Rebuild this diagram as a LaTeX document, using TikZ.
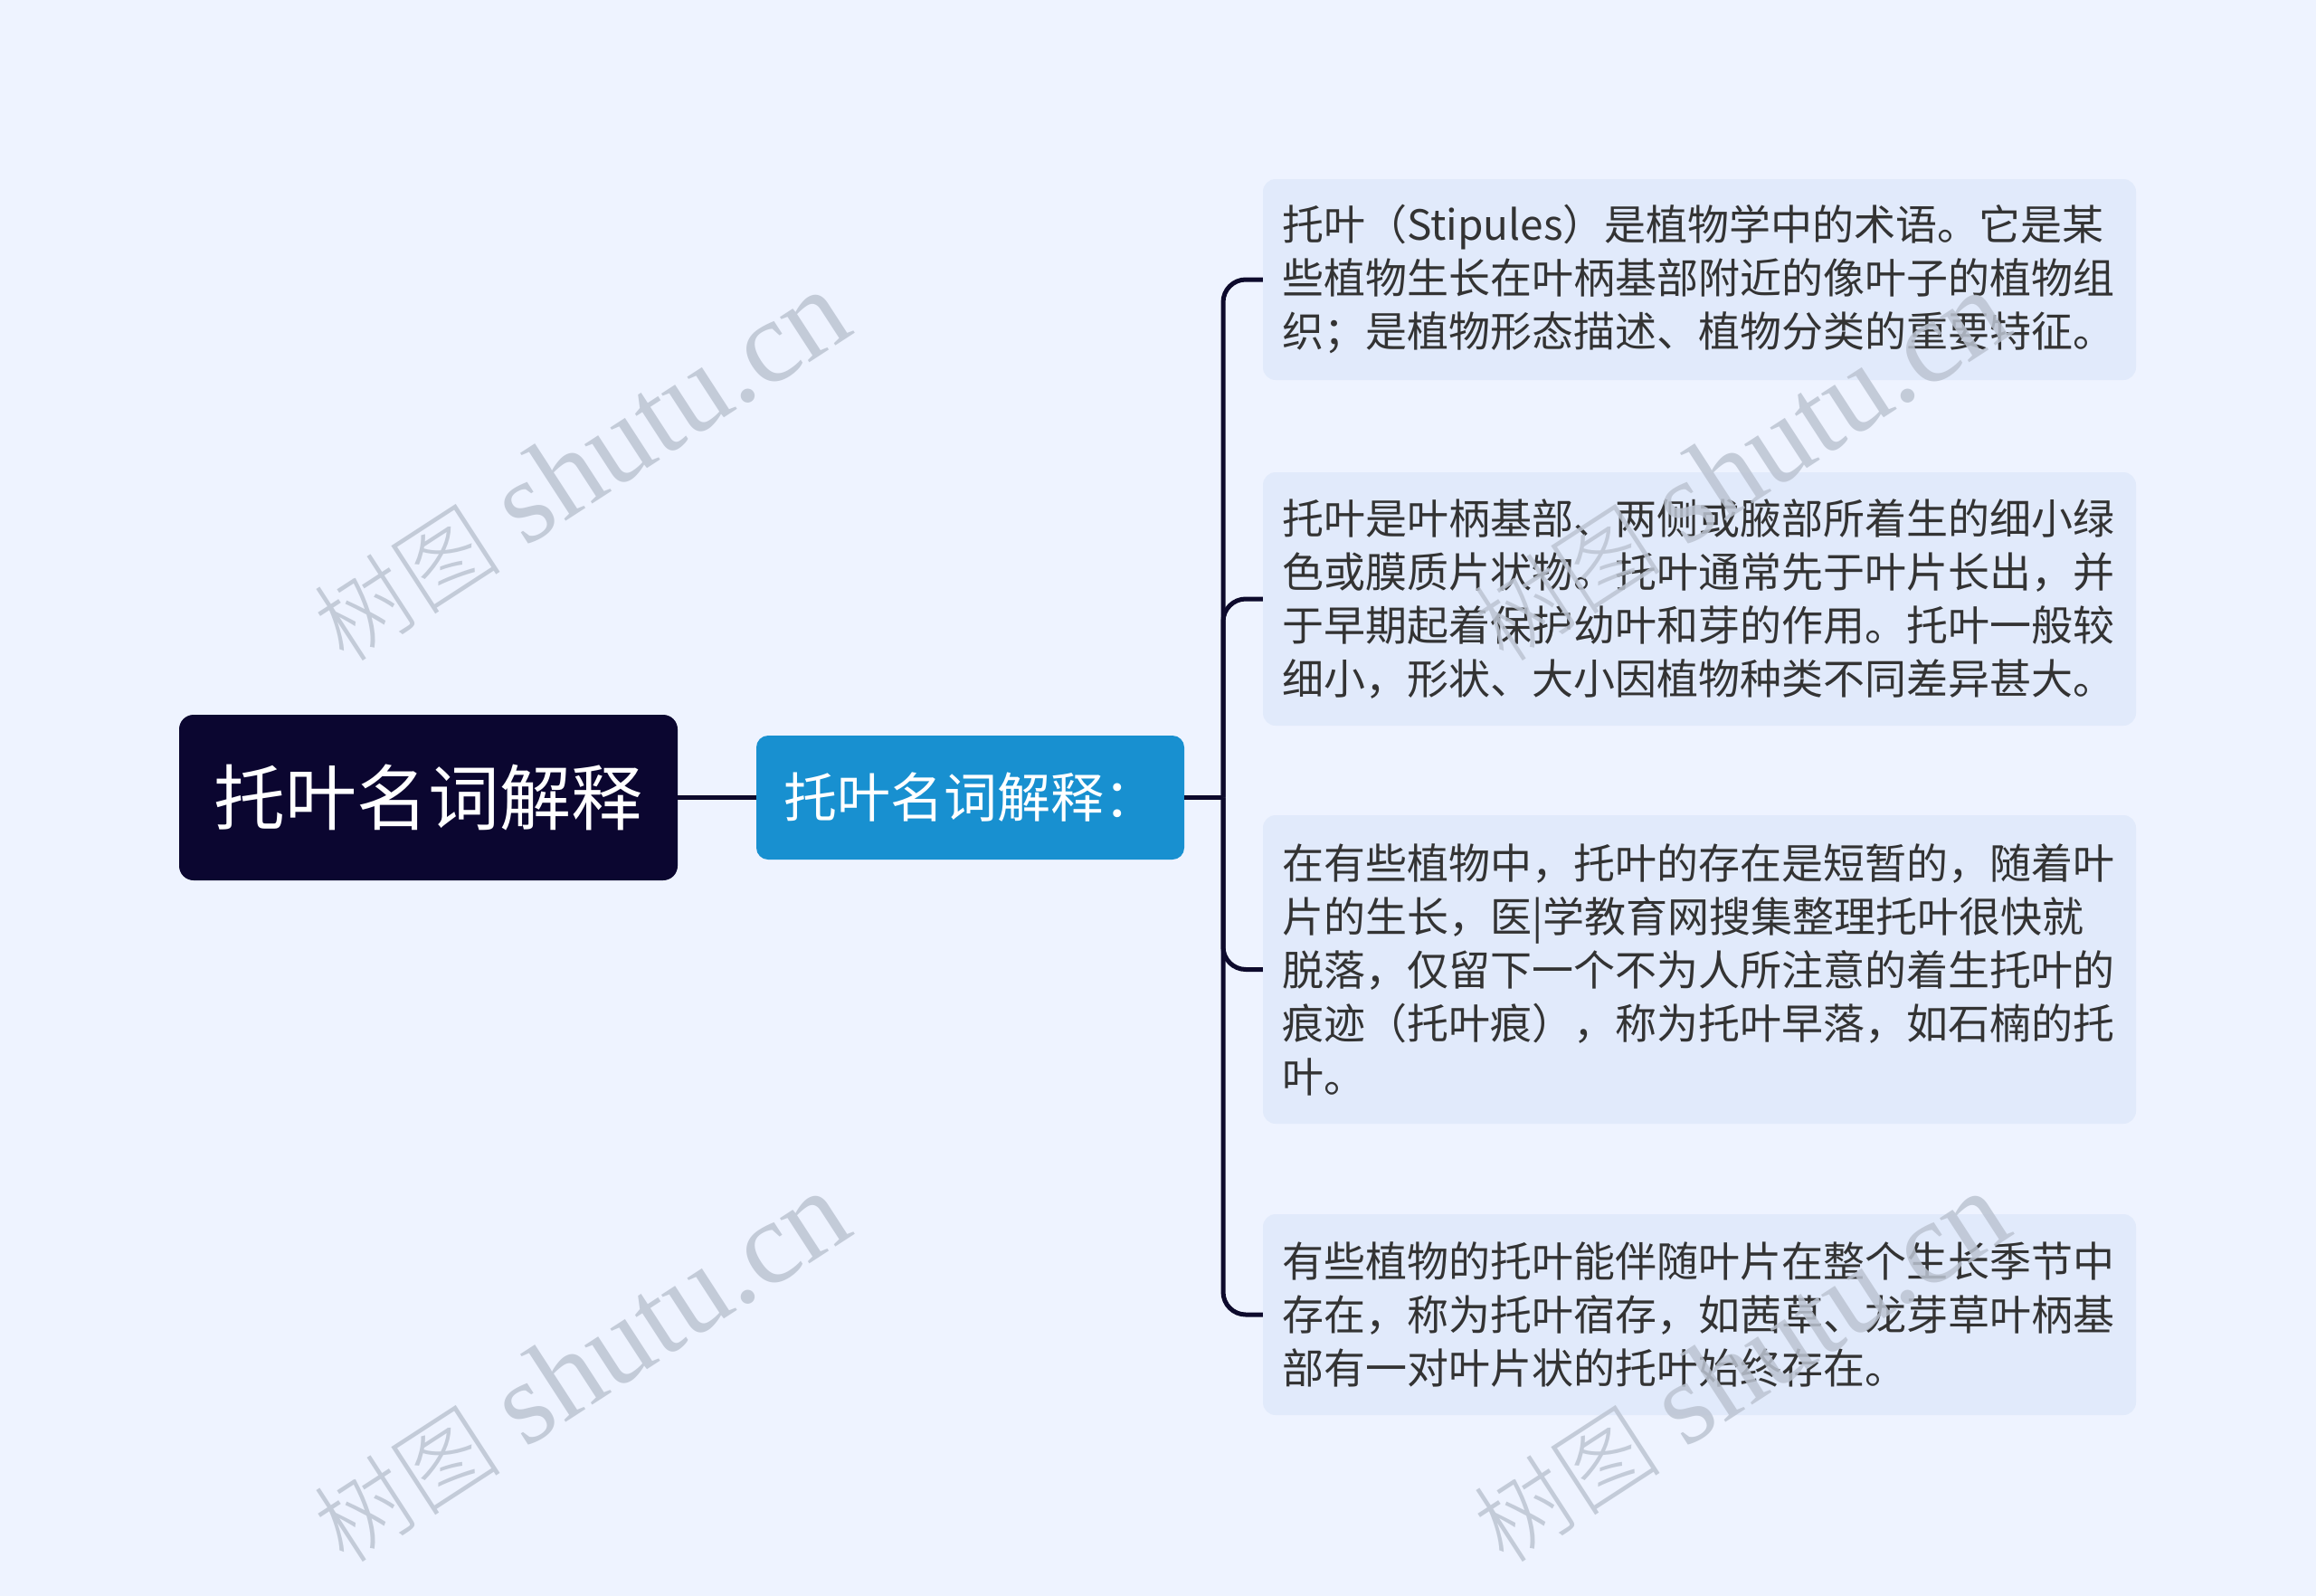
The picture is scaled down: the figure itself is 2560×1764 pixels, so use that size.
\documentclass[tikz,border=0pt]{standalone}
\usepackage{fontspec}
\setmainfont{Noto Sans CJK SC}
\newfontfamily\wmcjk{Noto Sans CJK SC Light}
\newfontfamily\wmlat{Liberation Serif}
\definecolor{bg}{HTML}{EEF3FF}
\definecolor{rootc}{HTML}{0B0630}
\definecolor{childc}{HTML}{1890D0}
\definecolor{leafc}{HTML}{E1EAFB}
\definecolor{linec}{HTML}{0D0A2C}
\definecolor{txt}{HTML}{333333}
\definecolor{wm}{HTML}{BCC4D2}
\begin{document}
\begin{tikzpicture}[x=1pt,y=-1pt,
 rootbox/.style={fill=rootc, rounded corners=16pt, minimum width=551pt, minimum height=183pt, text=white, font=\fontsize{79}{90}\selectfont, inner sep=0pt},
 childbox/.style={fill=childc, rounded corners=13pt, minimum width=473pt, minimum height=137pt, text=white, font=\fontsize{59}{70}\selectfont, inner sep=0pt},
 leafbox/.style={fill=leafc, rounded corners=14pt, text width=923pt, inner xsep=21pt, inner ysep=0pt, align=left, text=txt, font=\fontsize{46}{59}\selectfont, anchor=center},
 link/.style={draw=linec, line width=5pt},
 wmark/.style={text=wm, rotate=33, inner sep=0pt, opacity=0.85, font=\fontsize{130}{140}\selectfont}
]
\fill[bg] (0,0) rectangle (2560,1764);
\useasboundingbox (0,0) rectangle (2560,1764);

\node[rootbox] (root) at (473.5,881.5) {托叶名词解释};
\node[childbox] (child) at (1072.5,881.5) {托叶名词解释：};

\node[leafbox, minimum height=222pt] (l1) at (1878.5,309) {托叶（Stipules）是植物学中的术语。它是某\\些植物生长在叶柄基部附近的像叶子的植物组\\织；是植物形态描述、植物分类的重要特征。};
\node[leafbox, minimum height=280pt] (l2) at (1878.5,662) {托叶是叶柄基部、两侧或腋部所着生的细小绿\\色或膜质片状物。托叶通常先于叶片长出，并\\于早期起着保护幼叶和芽的作用。托叶一般较\\细小，形状、大小因植物种类不同差异甚大。};
\node[leafbox, minimum height=341pt] (l3) at (1878.5,1071.5) {在有些植物中，托叶的存在是短暂的，随着叶\\片的生长，医|学教育网搜集整理托叶很快就\\脱落，仅留下一个不为人所注意的着生托叶的\\痕迹（托叶痕），称为托叶早落，如石楠的托\\叶。};
\node[leafbox, minimum height=222pt] (l4) at (1878.5,1453) {有些植物的托叶能伴随叶片在整个生长季节中\\存在，称为托叶宿存，如茜草、龙芽草叶柄基\\部有一对叶片状的托叶始终存在。};

\coordinate (j) at (1352,881.5);
\draw[link] (root.east) -- (child.west);
\draw[link] (child.east) -- (j);
\foreach \b in {l1,l2,l3,l4} \draw[link, rounded corners=25pt] (j) |- (\b.west);

\node[wmark] (wm1) at (642,516) {{\wmcjk\fontsize{104}{110}\selectfont 树图} {\wmlat shutu.cn}};
\node[wmark] (wm2) at (642,1512) {{\wmcjk\fontsize{104}{110}\selectfont 树图} {\wmlat shutu.cn}};
\node[wmark] (wm3) at (1924,516) {{\wmcjk\fontsize{104}{110}\selectfont 树图} {\wmlat shutu.cn}};
\node[wmark] (wm4) at (1924,1512) {{\wmcjk\fontsize{104}{110}\selectfont 树图} {\wmlat shutu.cn}};
\end{tikzpicture}
\end{document}
